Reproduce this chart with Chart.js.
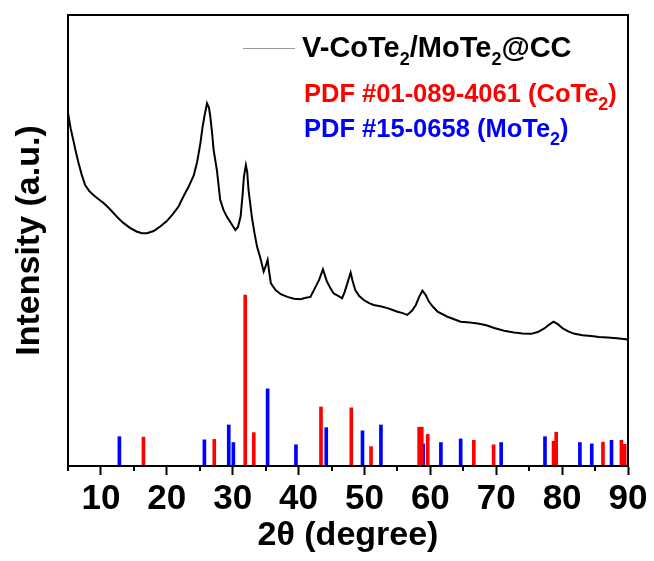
<!DOCTYPE html>
<html>
<head>
<meta charset="utf-8">
<script src="https://cdn.jsdelivr.net/npm/chart.js@4.4.0/dist/chart.umd.min.js"></script>
<style>
  html, body { margin: 0; padding: 0; background: #fff; }
  canvas { display: block; }
</style>
</head>
<body>
<canvas id="xrd" width="654" height="561"></canvas>
<script>
// measured pattern (2theta in degrees, intensity in arbitrary units 0-100)
const twoTheta = [
  5.0, 5.4, 5.8, 6.2, 6.6, 7.1, 7.6, 8.2, 8.85, 9.6, 10.4, 11.2, 11.9, 12.6, 13.4, 14.4,
  15.4, 16.2, 17.0, 18.0, 19.0, 20.0, 21.0, 21.8, 22.5, 23.3, 24.1, 24.6, 25.1, 25.4, 25.7,
  26.1, 26.4, 26.6, 26.9, 27.1, 27.6, 28.1, 28.6, 29.1, 29.8, 30.4, 30.8, 31.2, 31.5, 31.7,
  32.0, 32.2, 32.4, 32.9, 33.3, 33.7, 34.2, 34.7, 35.0, 35.3, 35.6, 35.8, 36.5, 37.3, 38.3,
  39.3, 40.3, 41.1, 41.8, 42.5, 43.1, 43.7, 44.3, 44.8, 45.3, 46.0, 46.6, 47.0, 47.4, 47.9,
  48.2, 48.6, 49.2, 49.9, 50.7, 51.4, 52.4, 53.5, 54.3, 55.0, 55.8, 56.5, 57.2, 57.8, 58.3,
  58.8, 59.3, 59.8, 60.4, 61.1, 62.6, 64.6, 66.0, 67.2, 68.5, 69.7, 71.2, 72.7, 74.0, 75.3,
  76.3, 77.3, 78.0, 78.7, 79.4, 80.1, 81.0, 81.9, 83.1, 84.4, 85.6, 86.9, 88.3, 89.7, 90.0
];
const intensity = [
  78.3, 74.9, 72.3, 69.6, 67.2, 64.5, 62.3, 61.0, 60.1, 59.2, 58.3, 57.2, 56.1, 55.0, 53.9, 52.8,
  52.0, 51.6, 51.6, 52.1, 53.1, 54.3, 56.0, 57.6, 59.7, 61.9, 64.5, 67.4, 71.6, 74.9, 77.5,
  80.4, 79.4, 77.5, 73.4, 70.1, 65.6, 59.0, 56.8, 55.3, 53.7, 52.3, 53.0, 55.3, 60.1, 64.1,
  66.7, 65.2, 61.2, 55.3, 51.7, 48.6, 46.1, 43.1, 44.3, 45.7, 42.4, 40.5, 39.0, 38.1, 37.5,
  37.1, 37.0, 37.3, 37.5, 39.5, 41.2, 43.6, 40.9, 39.5, 38.3, 37.7, 37.2, 38.6, 40.5, 42.9,
  41.0, 39.0, 37.7, 36.8, 36.1, 35.7, 35.4, 35.0, 34.6, 34.2, 33.9, 33.5, 34.4, 35.7, 37.5,
  38.9, 37.9, 36.4, 35.3, 34.2, 33.1, 32.0, 31.8, 31.6, 31.2, 30.6, 30.0, 29.6, 29.4, 29.3,
  29.7, 30.5, 31.3, 32.0, 31.4, 30.5, 29.8, 29.3, 29.0, 28.8, 28.6, 28.5, 28.3, 28.1, 28.0
];

// reference lines, PDF #01-089-4061 (CoTe2)
const coTe2Pos = [16.45, 27.2, 31.9, 33.2, 43.4, 48.0, 51.0, 58.3, 58.7, 59.6, 66.6, 69.6, 78.7, 79.1, 86.2, 89.0, 89.5];
const coTe2Int = [6.4, 5.9, 37.9, 7.4, 13.1, 12.9, 4.3, 8.6, 8.6, 7.0, 5.7, 4.7, 5.5, 7.5, 5.3, 5.7, 4.8];

// reference lines, PDF #15-0658 (MoTe2)
const moTe2Pos = [12.8, 25.7, 29.4, 30.1, 35.3, 39.6, 44.2, 49.7, 52.5, 58.9, 61.6, 64.6, 70.75, 77.4, 82.7, 84.5, 87.5];
const moTe2Int = [6.5, 5.8, 9.1, 5.2, 17.1, 4.7, 8.5, 7.8, 9.1, 4.9, 5.2, 6.0, 5.2, 6.5, 5.2, 4.9, 5.7];

const xMajorTicks = [10, 20, 30, 40, 50, 60, 70, 80, 90];
const xMinorTicks = [5, 15, 25, 35, 45, 55, 65, 75, 85];

const FONT = "'Liberation Sans', Arial, sans-serif";

const toPoints = (xs, ys) => xs.map((x, i) => ({ x: x, y: ys[i] }));

// box around the plot + short minor ticks
const framePlugin = {
  id: "frame",
  afterDraw(chart) {
    const { ctx, chartArea: a, scales } = chart;
    ctx.save();
    ctx.strokeStyle = "#000";
    ctx.lineWidth = 2;
    ctx.strokeRect(a.left, a.top, a.right - a.left, a.bottom - a.top);
    ctx.beginPath();
    xMinorTicks.forEach((v) => {
      const px = Math.round(scales.x.getPixelForValue(v));
      ctx.moveTo(px, a.bottom);
      ctx.lineTo(px, a.bottom + 5);
    });
    ctx.stroke();
    ctx.restore();
  },
};

// draws "₂" as a real lowered subscript
function drawWithSubs(ctx, text, x, y, size, subSize, color) {
  ctx.fillStyle = color;
  ctx.textBaseline = "alphabetic";
  ctx.textAlign = "left";
  let cx = x;
  for (const part of text.split(/(₂)/)) {
    if (!part) continue;
    if (part === "₂") {
      ctx.font = "bold " + subSize + "px " + FONT;
      ctx.fillText("2", cx, y + 8);
      cx += ctx.measureText("2").width;
    } else {
      ctx.font = "bold " + size + "px " + FONT;
      ctx.fillText(part, cx, y);
      cx += ctx.measureText(part).width;
    }
  }
}

const legendPlugin = {
  id: "customLegend",
  afterDraw(chart) {
    const { ctx } = chart;
    const ds = chart.data.datasets;
    ctx.save();
    ctx.strokeStyle = "#999";
    ctx.lineWidth = 1;
    ctx.beginPath();
    ctx.moveTo(243, 48.5);
    ctx.lineTo(295, 48.5);
    ctx.stroke();
    drawWithSubs(ctx, ds[0].label, 302, 57, 29, 18, "#000");
    drawWithSubs(ctx, ds[1].label, 304, 102, 25.5, 18, "#ff0000");
    drawWithSubs(ctx, ds[2].label, 304, 137, 25.5, 18, "#0000ff");
    ctx.restore();
  },
};

new Chart(document.getElementById("xrd"), {
  type: "bar",
  data: {
    datasets: [
      {
        type: "line",
        label: "V-CoTe₂/MoTe₂@CC",
        data: toPoints(twoTheta, intensity),
        borderColor: "#000",
        borderWidth: 2,
        pointRadius: 0,
        tension: 0,
      },
      {
        label: "PDF #01-089-4061 (CoTe₂)",
        data: toPoints(coTe2Pos, coTe2Int),
        backgroundColor: "#ff0000",
        barThickness: 3,
        grouped: false,
      },
      {
        label: "PDF #15-0658 (MoTe₂)",
        data: toPoints(moTe2Pos, moTe2Int),
        backgroundColor: "#0000ff",
        barThickness: 3,
        grouped: false,
      },
    ],
  },
  options: {
    responsive: false,
    animation: false,
    layout: { padding: { top: 15, right: 26, left: 0, bottom: 0 } },
    plugins: {
      legend: { display: false },
      tooltip: { enabled: false },
    },
    scales: {
      x: {
        type: "linear",
        min: 5,
        max: 90,
        offset: false,
        afterBuildTicks: (scale) => {
          scale.ticks = xMajorTicks.map((v) => ({ value: v }));
        },
        afterFit: (scale) => {
          scale.height = 95;
        },
        grid: {
          drawOnChartArea: false,
          offset: false,
          tickLength: 9,
          tickWidth: 2,
          tickColor: "#000",
        },
        border: { display: true, color: "#000", width: 2 },
        ticks: {
          autoSkip: false,
          maxRotation: 0,
          padding: 3,
          color: "#000",
          font: { family: FONT, size: 35, weight: "bold" },
        },
        title: {
          display: true,
          text: "2θ (degree)",
          color: "#000",
          padding: { top: 0, bottom: 5 },
          font: { family: FONT, size: 34, weight: "bold" },
        },
      },
      y: {
        min: 0,
        max: 100,
        afterFit: (scale) => {
          scale.width = 68;
        },
        grid: { display: false },
        border: { display: true, color: "#000", width: 2 },
        ticks: { display: false },
        title: {
          display: true,
          text: "Intensity (a.u.)",
          color: "#000",
          padding: { top: 9, bottom: 0 },
          font: { family: FONT, size: 34, weight: "bold" },
        },
      },
    },
  },
  plugins: [framePlugin, legendPlugin],
});
</script>
</body>
</html>
